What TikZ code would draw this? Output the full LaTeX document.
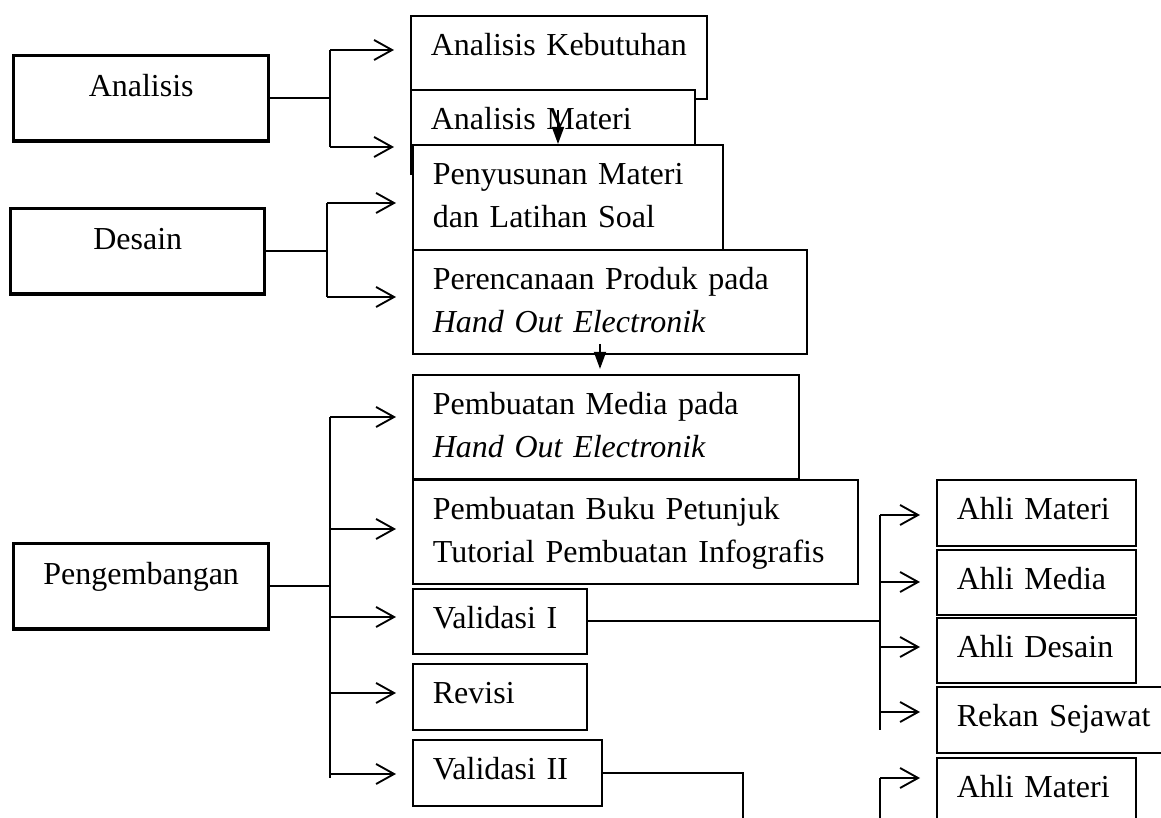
\documentclass[tikz,border=0pt]{standalone}
\usepackage{fontspec}
\setmainfont{Liberation Serif}
\usetikzlibrary{arrows.meta}
\tikzset{
  phase/.style={draw,line width=1.3pt,fill=white,anchor=north west,inner sep=0pt,
    text height=15.4pt,font=\fontsize{12pt}{16.1pt}\selectfont},
  stepbox/.style={draw,line width=0.65pt,fill=white,anchor=north west,inner xsep=7.5pt,
    inner ysep=0pt,align=left,text height=15pt,font=\fontsize{12pt}{16.1pt}\selectfont},
  link/.style={line width=0.7pt},
  arr/.style={link,-{Straight Barb[length=6.75pt,width=7.5pt]},shorten >=6pt},
  flow/.style={link,-{Triangle[length=6.4pt,width=4.5pt]}}
}
\begin{document}
\begin{tikzpicture}[x=0.375pt,y=-0.375pt]
        \useasboundingbox (0,0) rectangle (1161,818);
        %% Phases
        \node[phase,minimum width=95.6pt,minimum height=31.9pt,text depth=16.5pt] (ana) at (12,54) {Analisis};
        \node[phase,minimum width=95.25pt,minimum height=31.9pt,text depth=16.5pt] (des) at (9,207) {Desain};
        \node[phase,minimum width=95.6pt,minimum height=31.9pt,text depth=16.5pt] (pen) at (12,542) {Pengembangan};
        %% Analisis steps
        \node[stepbox,text width=96pt,text depth=16.1pt] (keb) at (410,15) {Analisis Kebutuhan};
        \node[stepbox,text width=91.5pt,text depth=16.5pt] (mat) at (410,89) {Analisis Materi};
        %% Desain steps
        \node[stepbox,text width=101.25pt,text depth=24.4pt] (pyu) at (412,144) {Penyusunan Materi\\dan Latihan Soal};
        \node[stepbox,text width=132.75pt,text depth=24pt] (ren) at (412,249) {Perencanaan Produk pada\\\textit{Hand Out Electronik}};
        %% Pengembangan steps
        \node[stepbox,text width=129.75pt,text depth=24pt] (med) at (412,374) {Pembuatan Media pada\\\textit{Hand Out Electronik}};
        \node[stepbox,text width=151.9pt,text depth=24pt] (buk) at (412,479) {Pembuatan Buku Petunjuk\\Tutorial Pembuatan Infografis};
        \node[stepbox,text width=50.25pt,text depth=9.4pt] (va1) at (412,588) {Validasi I};
        \node[stepbox,text width=50.25pt,text depth=9.75pt] (rev) at (412,663) {Revisi};
        \node[stepbox,text width=55.9pt,text depth=9.75pt] (va2) at (412,739) {Validasi II};
        %% Validators
        \node[stepbox,text width=59.6pt,text depth=9.75pt] (am1) at (936,479) {Ahli Materi};
        \node[stepbox,text width=59.6pt,text depth=9.4pt] (amd) at (936,549) {Ahli Media};
        \node[stepbox,text width=59.6pt,text depth=9.4pt] (ads) at (936,617) {Ahli Desain};
        \node[stepbox,text width=72.75pt,text depth=9.75pt] (rek) at (936,686) {Rekan Sejawat};
        \node[stepbox,text width=59.6pt,text depth=9.75pt] (am2) at (936,757) {Ahli Materi};
        %% Branch points
        \coordinate (a1) at (330,50);
        \coordinate (a2) at (330,147);
        \coordinate (d1) at (327,203);
        \coordinate (d2) at (327,297);
        \coordinate (p1) at (330,417);
        \coordinate (p2) at (330,529);
        \coordinate (p3) at (330,617);
        \coordinate (p4) at (330,693);
        \coordinate (p5) at (330,774);
        \coordinate (p6) at (330,778);
        \coordinate (v1) at (880,515);
        \coordinate (v2) at (880,582);
        \coordinate (v3) at (880,647);
        \coordinate (v4) at (880,712);
        \coordinate (v5) at (880,730);
        \coordinate (w1) at (743,830);
        \coordinate (x1) at (880,778);
        \coordinate (x2) at (880,830);
        \coordinate (m1) at (558,110);
        \coordinate (m2) at (600,344);
        %% Analisis
        \draw[link] (ana.east) -- (ana.east -| a1);
        \draw[link] (a1) -- (a2);
        \draw[arr] (a1) -- (a1 -| keb.west);
        \draw[arr] (a2) -- (a2 -| mat.west);
        %% Desain
        \draw[link] (des.east) -- (des.east -| d1);
        \draw[link] (d1) -- (d2);
        \draw[arr] (d1) -- (d1 -| pyu.west);
        \draw[arr] (d2) -- (d2 -| ren.west);
        %% Pengembangan
        \draw[link] (pen.east) -- (pen.east -| p1);
        \draw[link] (p1) -- (p6);
        \draw[arr] (p1) -- (p1 -| med.west);
        \draw[arr] (p2) -- (p2 -| buk.west);
        \draw[arr] (p3) -- (p3 -| va1.west);
        \draw[arr] (p4) -- (p4 -| rev.west);
        \draw[arr] (p5) -- (p5 -| va2.west);
        %% Validasi I
        \draw[link] (va1.east) -- (va1.east -| v1);
        \draw[link] (v1) -- (v5);
        \draw[arr] (v1) -- (v1 -| am1.west);
        \draw[arr] (v2) -- (v2 -| amd.west);
        \draw[arr] (v3) -- (v3 -| ads.west);
        \draw[arr] (v4) -- (v4 -| rek.west);
        %% Validasi II
        \draw[link] (va2.east) -| (w1);
        \draw[link] (x1) -- (x2);
        \draw[arr] (x1) -- (x1 -| am2.west);
        %% flow
        \draw[flow] (m1) -- (m1 |- pyu.north);
        \draw[flow,shorten >=1.9pt] (m2) -- (m2 |- med.north);
    \end{tikzpicture}
\end{document}
